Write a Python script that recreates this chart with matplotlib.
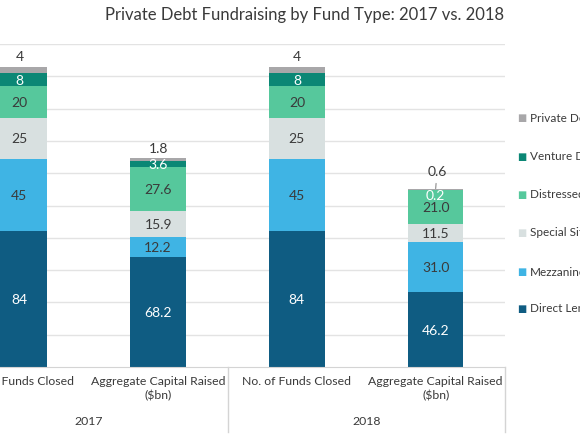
import matplotlib
matplotlib.use("Agg")
import matplotlib.pyplot as plt
import numpy as np
from matplotlib.transforms import blended_transform_factory

plt.rcParams['font.family'] = ['Lato', 'DejaVu Sans']

# data
categories = ["No. of Funds Closed", "Aggregate Capital Raised\n($bn)",
              "No. of Funds Closed", "Aggregate Capital Raised\n($bn)"]
years = ["2017", "2018"]
fund_types = ["Direct Lending", "Mezzanine", "Special Situations",
              "Distressed Debt", "Venture Debt", "Private Debt Fund of Funds"]
direct_lending = [84, 68.2, 84, 46.2]
mezzanine = [45, 12.2, 45, 31.0]
special_sits = [25, 15.9, 25, 11.5]
distressed = [20, 27.6, 20, 21.0]
venture = [8, 3.6, 8, 0.2]
fund_of_funds = [4, 1.8, 4, 0.6]
label_fmt = ["{:.0f}", "{:.1f}", "{:.0f}", "{:.1f}"]

series = [direct_lending, mezzanine, special_sits, distressed, venture, fund_of_funds]
colors = ["#0f5c82", "#3fb4e4", "#d8e0e0", "#56c89c", "#0b8775", "#a8a7a9"]
text_cols = ["white", "#3a3a3a", "#3a3a3a", "#3a3a3a", "white", "#3a3a3a"]

fig = plt.figure(figsize=(5.8, 4.35), dpi=100)
ax = fig.add_axes([-0.0862, 0.154, 0.957, 0.7425])

x = np.arange(len(categories))
bottom = np.zeros(len(categories))
for k, vals in enumerate(series):
    vals = np.array(vals, dtype=float)
    ax.bar(x, vals, 0.40, bottom=bottom, color=colors[k], zorder=2)
    for i in range(len(x)):
        txt = label_fmt[i].format(vals[i])
        top = bottom[i] + vals[i]
        if k == len(series) - 1:
            if vals[i] < 1:
                ax.annotate(txt, (x[i], top), xytext=(1, 13), textcoords="offset points",
                            ha="center", va="center", fontsize=10, color="#3a3a3a",
                            arrowprops=dict(arrowstyle="-", color="#8a8a8a", lw=0.8,
                                            shrinkA=3, shrinkB=0), zorder=4)
            else:
                ax.annotate(txt, (x[i], top), xytext=(0, 7.5), textcoords="offset points",
                            ha="center", va="center", fontsize=10, color="#3a3a3a")
        elif vals[i] < 1:
            ax.annotate(txt, (x[i], bottom[i] + vals[i] / 2), xytext=(0, -3.5),
                        textcoords="offset points", ha="center", va="center",
                        fontsize=10, color=text_cols[k])
        else:
            ax.text(x[i], bottom[i] + vals[i] / 2, txt, ha="center", va="center",
                    fontsize=10, color=text_cols[k], zorder=3)
    bottom += vals

ax.set_xlim(-0.5, 3.5)
ax.set_ylim(0, 200)
ax.set_yticks(np.arange(20, 201, 20))
ax.yaxis.grid(True, color="#e3e3e3", lw=1, zorder=0)
ax.tick_params(left=False, labelleft=False, bottom=False, labelbottom=False)
for s in ["top", "right", "left"]:
    ax.spines[s].set_visible(False)
ax.spines["bottom"].set_color("#d4d4d4")

# multi-level category axis
tr = blended_transform_factory(ax.transData, fig.transFigure)
for i, c in enumerate(categories):
    ax.text(x[i], 1 - 376 / 435, c, transform=tr, ha="center", va="top",
            fontsize=8.8, color="#3a3a3a", linespacing=1.35)
for j, yr in enumerate(years):
    ax.text(2 * j + 0.5, 1 - 422 / 435, yr, transform=tr, ha="center", va="center",
            fontsize=8.8, color="#3a3a3a")
for xs in [-0.5, 1.5, 3.5]:
    ax.plot([xs, xs], [0.154, 1 - 433 / 435], transform=tr, color="#d4d4d4",
            lw=1, clip_on=False)

# legend (clipped by figure edge as in the source)
leg_y = [309, 272, 233, 195, 157, 118]
for k, name in enumerate(fund_types):
    yy = 1 - leg_y[k] / 435
    fig.text(522 / 580, yy, "\u25a0", color=colors[k], fontsize=7,
             ha="center", va="center", family="DejaVu Sans")
    fig.text(530 / 580, yy, name, color="#3a3a3a", fontsize=8.5,
             ha="left", va="center")

fig.text(305 / 580, 1 - 15 / 435, "Private Debt Fundraising by Fund Type: 2017 vs. 2018",
         ha="center", va="center", fontsize=12, color="#3a3a3a")

fig.savefig("out.png", dpi=100)
